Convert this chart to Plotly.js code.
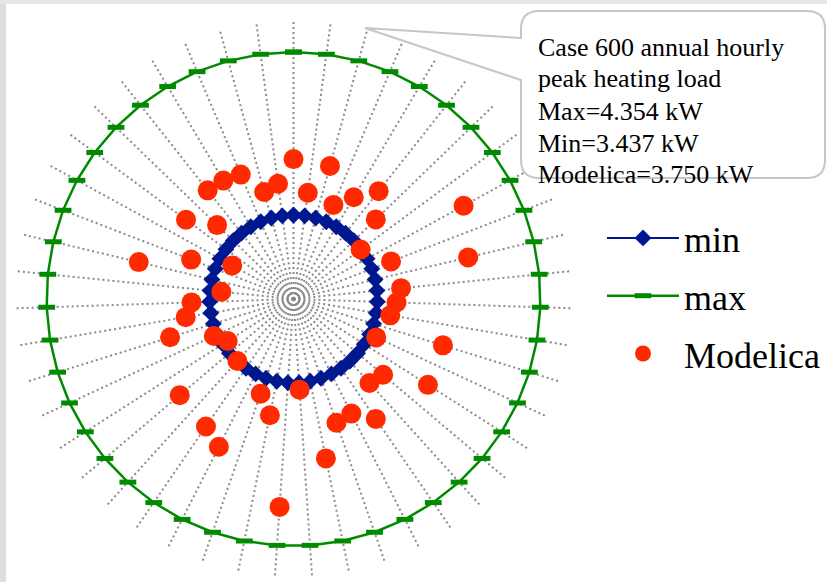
<!DOCTYPE html>
<html>
<head>
<meta charset="utf-8">
<script src="https://cdn.plot.ly/plotly-3.0.1.min.js"></script>
<style>html,body{margin:0;padding:0;background:#fff;}#chart{width:827px;height:582px;}</style>
</head>
<body>
<div id="chart"></div>
<script>
// Categories (47 radar spokes, first at top, clockwise)
const categories = ['1','2','3','4','5','6','7','8','9','10','11','12','13','14','15','16','17','18','19','20','21','22','23','24','25','26','27','28','29','30','31','32','33','34','35','36','37','38','39','40','41','42','43','44','45','46','47'];

// Series values (kW)
const minValues = [3.437,3.437,3.437,3.437,3.437,3.437,3.437,3.437,3.437,3.437,3.437,3.437,3.437,3.437,3.437,3.437,3.437,3.437,3.437,3.437,3.437,3.437,3.437,3.437,3.437,3.437,3.437,3.437,3.437,3.437,3.437,3.437,3.437,3.437,3.437,3.437,3.437,3.437,3.437,3.437,3.437,3.437,3.437,3.437,3.437,3.437,3.437];
const maxValues = [4.354,4.354,4.354,4.354,4.354,4.354,4.354,4.354,4.354,4.354,4.354,4.354,4.354,4.354,4.354,4.354,4.354,4.354,4.354,4.354,4.354,4.354,4.354,4.354,4.354,4.354,4.354,4.354,4.354,4.354,4.354,4.354,4.354,4.354,4.354,4.354,4.354,4.354,4.354,4.354,4.354,4.354,4.354,4.354,4.354,4.354,4.354];
const modelicaValues = [3.752,3.568,3.741,3.540,3.630,3.738,3.609,3.434,4.056,3.553,3.975,3.573,3.545,3.517,3.845,3.478,3.862,3.625,3.602,3.783,3.687,3.702,3.880,3.476,4.137,3.632,3.529,3.896,3.835,3.435,3.803,3.404,3.459,3.692,3.580,3.539,3.373,3.860,3.582,3.358,3.716,3.563,3.744,3.739,3.725,3.589,3.619];

// Texts
const seriesNames = ['min', 'max', 'Modelica'];
const calloutLines = ['Case 600 annual hourly', 'peak heating load', 'Max=4.354 kW', 'Min=3.437 kW', 'Modelica=3.750 kW'];

const W = 827, H = 582;
const fx = x => x / W;
const fy = y => 1 - y / H;
const P = (x, y) => fx(x).toFixed(5) + ',' + fy(y).toFixed(5);

function closed(arr) { return arr.concat([arr[0]]); }

const traces = [
  {
    type: 'scatterpolar', name: seriesNames[0], legendgroup: 'a',
    theta: closed(categories), r: closed(minValues),
    mode: 'lines+markers',
    line: {color: '#00188f', width: 2},
    marker: {symbol: 'diamond', size: 13, color: '#00188f'}
  },
  {
    type: 'scatterpolar', name: seriesNames[1], legendgroup: 'b',
    theta: closed(categories), r: closed(maxValues),
    mode: 'lines+markers',
    line: {color: '#008a00', width: 2.5},
    marker: {symbol: 'line-ew', size: 12, color: '#008a00', line: {color: '#008a00', width: 5}}
  },
  {
    type: 'scatterpolar', name: seriesNames[2], legendgroup: 'c',
    theta: categories, r: modelicaValues,
    mode: 'markers',
    marker: {symbol: 'circle', size: 20, color: '#ff2a00'}
  }
];

const cx = 293.5, cy = 299, R = 280;

const calloutPath = 'M' + P(539,11) + ' L' + P(807,11) + ' Q' + P(825,11) + ' ' + P(825,29) +
  ' L' + P(825,160) + ' Q' + P(825,178) + ' ' + P(807,178) + ' L' + P(539,178) +
  ' Q' + P(521,178) + ' ' + P(521,160) + ' L' + P(521,80) + ' L' + P(365,28) +
  ' L' + P(521,38) + ' L' + P(521,29) + ' Q' + P(521,11) + ' ' + P(539,11) + ' Z';

const lineMid = [47, 79, 111, 143, 174];
const annotations = calloutLines.map((t, i) => ({
  text: t, xref: 'paper', yref: 'paper', x: fx(536), y: fy(lineMid[i]),
  xanchor: 'left', yanchor: 'middle', showarrow: false,
  font: {family: 'Liberation Serif, Times New Roman, serif', size: 26, color: '#000'}
}));

const layout = {
  width: W, height: H,
  margin: {l: 0, r: 0, t: 0, b: 0},
  paper_bgcolor: '#ffffff',
  showlegend: true,
  legend: {
    x: fx(602), y: fy(208), xanchor: 'left', yanchor: 'top',
    font: {family: 'Liberation Serif, Times New Roman, serif', size: 36, color: '#000'},
    bgcolor: 'rgba(0,0,0,0)', traceorder: 'grouped', tracegroupgap: 8,
    itemwidth: 72
  },
  polar: {
    domain: {x: [fx(cx - R), fx(cx + R)], y: [fy(cy + R), fy(cy - R)]},
    bgcolor: 'rgba(0,0,0,0)',
    radialaxis: {
      range: [2.965, 4.54], showgrid: false, showline: false,
      showticklabels: false, ticks: ''
    },
    angularaxis: {
      type: 'category', rotation: 90, direction: 'clockwise',
      showline: false, showticklabels: false, ticks: '',
      showgrid: true, gridcolor: '#8a8a8a', gridwidth: 2, griddash: '2px,3px'
    }
  },
  shapes: [
    {type: 'rect', xref: 'paper', yref: 'paper', x0: 0, x1: fx(6), y0: 0, y1: 1,
     fillcolor: '#dedede', line: {width: 0}, layer: 'below'},
    {type: 'rect', xref: 'paper', yref: 'paper', x0: 0, x1: 1, y0: fy(4), y1: 1,
     fillcolor: '#e6e6e6', line: {width: 0}, layer: 'below'},
    {type: 'path', xref: 'paper', yref: 'paper', path: calloutPath,
     fillcolor: '#ffffff', line: {color: '#c6c6c6', width: 2}, layer: 'above'}
  ],
  annotations: annotations
};

Plotly.newPlot('chart', traces, layout, {displayModeBar: false, staticPlot: true});
</script>
</body>
</html>
